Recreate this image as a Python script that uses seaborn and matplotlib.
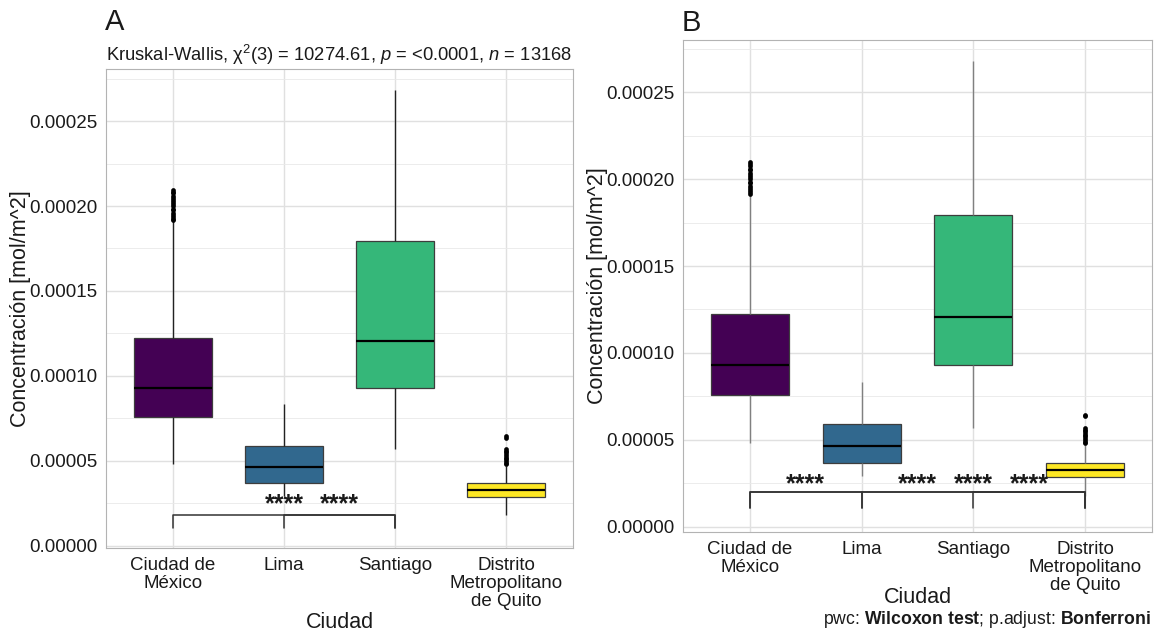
import numpy as np
import pandas as pd
import matplotlib
matplotlib.use('Agg')
import matplotlib.pyplot as plt
import seaborn as sns

#-----------------------------------------------------------------------------------------------------------------------
"""Data read off the reference"""
cities = ['Ciudad de México', 'Lima', 'Santiago', 'Distrito Metropolitano de Quito']
tick_labels = ['Ciudad de\nMéxico', 'Lima', 'Santiago', 'Distrito\nMetropolitano\nde Quito']
fill_colors = ['#440154', '#31688E', '#35B779', '#FDE725']

# box summaries [mol/m^2]
whisker_low = [48e-6, 29.5e-6, 57e-6, 18e-6]
q1 = [76e-6, 37e-6, 93e-6, 29e-6]
median = [93e-6, 46.5e-6, 120.5e-6, 33e-6]
q3 = [122.5e-6, 59e-6, 179.5e-6, 37e-6]
whisker_high = [191e-6, 83.5e-6, 268e-6, 47e-6]

# outliers
outliers_mexico = [191.5e-6, 192.5e-6, 193.5e-6, 195e-6, 196e-6, 197.5e-6, 198.5e-6, 200e-6, 201e-6,
                   202.5e-6, 203.5e-6, 205e-6, 206e-6, 207.5e-6, 208.5e-6, 209.5e-6]
outliers_quito = [48e-6, 49e-6, 50e-6, 51e-6, 52e-6, 53e-6, 54e-6, 55e-6, 56e-6, 57e-6, 63.5e-6, 64.5e-6]

y_ticks = [0, 5e-5, 1e-4, 1.5e-4, 2e-4, 2.5e-4]
y_tick_labels = ['0.00000', '0.00005', '0.00010', '0.00015', '0.00020', '0.00025']
y_minor = [2.5e-5, 7.5e-5, 1.25e-4, 1.75e-4, 2.25e-4, 2.75e-4]

# pairwise comparisons shown
pairs_a = [('Ciudad de México', 'Santiago'), ('Lima', 'Santiago')]
pairs_b = [('Ciudad de México', 'Lima'), ('Ciudad de México', 'Distrito Metropolitano de Quito'),
           ('Lima', 'Distrito Metropolitano de Quito'), ('Santiago', 'Distrito Metropolitano de Quito')]
p_label = '****'

#-----------------------------------------------------------------------------------------------------------------------
"""Long-form tables"""
rows = []
for c, lo, a, m, b, hi in zip(cities, whisker_low, q1, median, q3, whisker_high):
    for v in (lo, a, m, b, hi):
        rows.append((c, v))
box_df = pd.DataFrame(rows, columns=['Ciudad', 'Concentracion'])

out_rows = [(cities[0], v) for v in outliers_mexico] + [(cities[3], v) for v in outliers_quito]
out_df = pd.DataFrame(out_rows, columns=['Ciudad', 'Concentracion'])

#-----------------------------------------------------------------------------------------------------------------------
"""Style"""
sns.set_style('white')
plt.rcParams['font.family'] = ['Liberation Sans', 'DejaVu Sans']
plt.rcParams['mathtext.fontset'] = 'custom'
plt.rcParams['mathtext.rm'] = 'Liberation Sans'
plt.rcParams['mathtext.it'] = 'Liberation Sans:italic'
plt.rcParams['mathtext.bf'] = 'Liberation Sans:bold'

TEXT = '#1a1a1a'
BORDER = '#b3b3b3'

fig = plt.figure(figsize=(11.54, 6.33), dpi=100)
ax_a = fig.add_axes([106 / 1154, 1 - 548 / 633, 467 / 1154, 479 / 633])
ax_b = fig.add_axes([683 / 1154, 1 - 532 / 633, 469 / 1154, 492.5 / 633])


def draw_panel(ax, whisker_color, ylim, pairs, bracket_y, tip_y, star_y, ylab_x, xlab_y):
    sns.boxplot(data=box_df, x='Ciudad', y='Concentracion', hue='Ciudad', order=cities, hue_order=cities,
                palette=fill_colors, saturation=1, width=0.7, whis=(0, 100), showfliers=False,
                showcaps=False, linecolor='#3d3d3d', linewidth=0.9, legend=False, ax=ax,
                medianprops=dict(color='black', linewidth=1.6),
                whiskerprops=dict(color=whisker_color, linewidth=1))
    sns.stripplot(data=out_df, x='Ciudad', y='Concentracion', order=cities, jitter=False,
                  color='black', size=3.4, linewidth=0, ax=ax, zorder=3)

    # brackets
    for c1, c2 in pairs:
        i, j = cities.index(c1), cities.index(c2)
        ax.plot([i, i, j, j], [tip_y, bracket_y, bracket_y, tip_y], color='#333333', lw=1.1, zorder=4)
        ax.text((i + j) / 2, star_y, p_label, ha='center', va='center', fontsize=18,
                fontweight='bold', color=TEXT, zorder=5)

    ax.set_xlim(-0.6, 3.6)
    ax.set_ylim(*ylim)
    ax.set_xticks(range(len(cities)))
    ax.set_xticklabels(tick_labels, linespacing=1.1)
    ax.set_yticks(y_ticks)
    ax.set_yticklabels(y_tick_labels)
    ax.set_yticks(y_minor, minor=True)

    ax.set_axisbelow(True)
    ax.yaxis.grid(True, which='major', color='#e0e0e0', lw=1.0)
    ax.yaxis.grid(True, which='minor', color='#e9e9e9', lw=0.6)
    ax.xaxis.grid(True, which='major', color='#e0e0e0', lw=1.0)

    for s in ax.spines.values():
        s.set_visible(True)
        s.set_color(BORDER)
        s.set_linewidth(0.8)
    ax.tick_params(axis='both', which='major', length=3.7, width=0.8, color=BORDER,
                   labelsize=13.5, labelcolor=TEXT, pad=2.5)
    ax.tick_params(axis='y', which='minor', length=0)

    ax.set_ylabel('Concentración [mol/m^2]', fontsize=15.5, color=TEXT)
    ax.yaxis.label.set_va('center')
    ax.yaxis.set_label_coords(ylab_x, 0.5)
    ax.set_xlabel('Ciudad', fontsize=15.5, color=TEXT)
    ax.xaxis.label.set_va('center')
    ax.xaxis.set_label_coords(0.5, xlab_y)


draw_panel(ax_a, '#222222', (-1.2e-6, 280.6e-6), pairs_a, 18.2e-6, 10.6e-6, 24.5e-6, -0.184, -0.1545)
draw_panel(ax_b, '#808080', (-2.9e-6, 280.2e-6), pairs_b, 20.1e-6, 10.9e-6, 24.5e-6, -0.183, -0.134)

#-----------------------------------------------------------------------------------------------------------------------
"""Titles and captions"""
fig.text(105 / 1154, 1 - 22 / 633, 'A', fontsize=21, color=TEXT, ha='left', va='center')
fig.text(682 / 1154, 1 - 23 / 633, 'B', fontsize=21, color=TEXT, ha='left', va='center')
fig.text(106 / 1154, 1 - 55 / 633,
         r'Kruskal-Wallis, $\mathrm{\chi}^2$(3) = 10274.61, $\mathit{p}$ = <0.0001, $\mathit{n}$ = 13168',
         fontsize=13.2, color=TEXT, ha='left', va='center')
fig.text(1151 / 1154, 1 - 619 / 633, r'pwc: $\mathbf{Wilcoxon\ test}$; p.adjust: $\mathbf{Bonferroni}$',
         fontsize=12.7, color=TEXT, ha='right', va='center')

fig.savefig('out.png', dpi=100, facecolor='white')
